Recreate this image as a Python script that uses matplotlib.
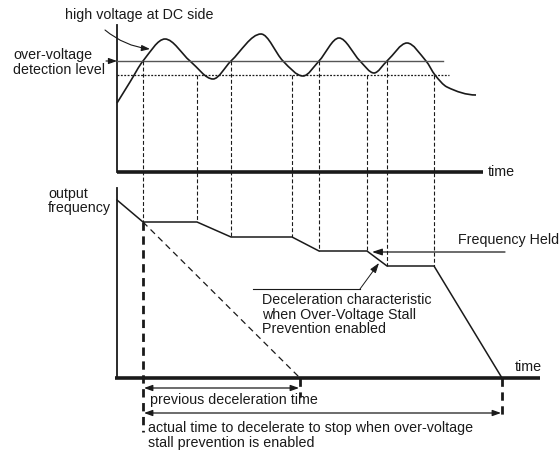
import matplotlib
matplotlib.use("Agg")
import matplotlib.pyplot as plt
from matplotlib.path import Path
from matplotlib.patches import PathPatch
import numpy as np

plt.rcParams['font.family'] = ['Liberation Sans', 'DejaVu Sans']

# ---- data (diagram units: x = time, y = screen rows) ----
event_x = [143, 197, 231, 292, 319, 367, 387, 434]        # stall on/off instants
event_top = [61, 75, 61, 75, 61, 75, 61, 75]              # where dashed guides start (voltage levels)
freq_x = [117, 143, 197, 231, 292, 319, 367, 387, 434, 502]
freq_y = [200, 222, 222, 237, 237, 251, 251, 266, 266, 378]
volt_x = [117, 130, 143, 165, 190, 213, 231, 261, 283, 303, 319, 339, 360, 374, 387, 407, 426, 435, 447, 476]
volt_y = [103, 82, 61, 39, 61, 79, 61, 34, 61, 76, 61, 38, 61, 73, 61, 43, 61, 75, 87, 95]
ov_level = 61
ov_reset = 75
prev_stop_x = 300
actual_stop_x = 502

fig = plt.figure(figsize=(5.6, 4.53), dpi=100)
ax = fig.add_axes([0, 0, 1, 1])
ax.set_xlim(0, 560)
ax.set_ylim(453, 0)
ax.axis('off')

K = '#1a1a1a'
fs = 10.3

# ---- top panel axes ----
ax.plot([117, 117], [25, 172], color=K, lw=1.3)
ax.plot([117, 483], [172, 172], color=K, lw=2.6, solid_capstyle='butt')
ax.text(488, 172, 'time', fontsize=fs, va='center', ha='left', color=K)

# levels
ax.plot([117, 443], [ov_level, ov_level], color='#555555', lw=1.0)
ax.plot([117, 449], [ov_reset, ov_reset], color=K, lw=0.9, linestyle=(0, (1.5, 1.2)))

# voltage curve (Hermite -> cubic Bezier path, flat tangents at extrema)
px = np.array(volt_x, float)
py = np.array(volt_y, float)
n = len(px)
m = np.zeros(n)
for i in range(n):
    if i == 0:
        m[i] = (py[1] - py[0]) / (px[1] - px[0])
    elif i == n - 1:
        m[i] = 0.0
    else:
        d0 = py[i] - py[i - 1]
        d1 = py[i + 1] - py[i]
        if d0 * d1 <= 0:
            m[i] = 0.0
        else:
            m[i] = (py[i + 1] - py[i - 1]) / (px[i + 1] - px[i - 1])
verts = [(px[0], py[0])]
codes = [Path.MOVETO]
for i in range(n - 1):
    h = px[i + 1] - px[i]
    verts += [(px[i] + h / 3, py[i] + m[i] * h / 3),
              (px[i + 1] - h / 3, py[i + 1] - m[i + 1] * h / 3),
              (px[i + 1], py[i + 1])]
    codes += [Path.CURVE4] * 3
ax.add_patch(PathPatch(Path(verts, codes), fill=False, edgecolor=K, lw=1.2))

# ---- bottom panel axes ----
ax.plot([117, 117], [188, 378], color=K, lw=1.3)
ax.plot([115, 540], [378, 378], color=K, lw=2.6, solid_capstyle='butt')
ax.text(515, 367, 'time', fontsize=fs, va='center', ha='left', color=K)

# frequency curve
ax.plot(freq_x, freq_y, color=K, lw=1.1)

# thin dashed guides from top to bottom panel
level_at = dict(zip(freq_x, freq_y))
for x, yt in zip(event_x, event_top):
    ax.plot([x, x], [yt, level_at[x]], color=K, lw=0.8, linestyle=(0, (3.5, 2)))

# previous deceleration dashed line
ax.plot([freq_x[1], prev_stop_x], [freq_y[1], 378], color=K, lw=0.9, linestyle=(0, (5, 3.5)))

# thick dashed markers
ax.plot([event_x[0], event_x[0]], [222, 432], color=K, lw=2.0, linestyle=(0, (3, 2)))
ax.plot([prev_stop_x, prev_stop_x], [378, 397], color=K, lw=2.0, linestyle=(0, (3, 2)))
ax.plot([actual_stop_x, actual_stop_x], [378, 418], color=K, lw=2.0, linestyle=(0, (3, 2)))

# double arrows
arr = dict(arrowstyle='<|-|>,head_length=0.5,head_width=0.18', color=K, lw=0.9, shrinkA=0, shrinkB=0)
ax.annotate('', xy=(event_x[0] + 1, 388), xytext=(prev_stop_x - 1, 388), arrowprops=arr)
ax.annotate('', xy=(event_x[0] + 1, 413), xytext=(actual_stop_x - 1, 413), arrowprops=arr)
ax.text(150, 400, 'previous deceleration time', fontsize=fs, va='center', ha='left', color=K)
ax.text(148, 428, 'actual time to decelerate to stop when over-voltage', fontsize=fs, va='center', ha='left', color=K)
ax.text(148, 443, 'stall prevention is enabled', fontsize=fs, va='center', ha='left', color=K)

# labels top
ax.text(65, 15, 'high voltage at DC side', fontsize=fs, va='center', ha='left', color=K)
ax.annotate('', xy=(150, 49), xytext=(105, 30),
            arrowprops=dict(arrowstyle='-|>,head_length=0.5,head_width=0.18', color=K, lw=0.8,
                            shrinkA=0, shrinkB=0, connectionstyle='arc3,rad=0.15'))
ax.text(13, 55, 'over-voltage', fontsize=fs, va='center', ha='left', color=K)
ax.text(13, 70, 'detection level', fontsize=fs, va='center', ha='left', color=K)
ax.annotate('', xy=(117, 61), xytext=(106, 61),
            arrowprops=dict(arrowstyle='-|>,head_length=0.5,head_width=0.18', color=K, lw=0.8,
                            shrinkA=0, shrinkB=0))

# labels bottom
ax.text(48, 194, 'output', fontsize=fs, va='center', ha='left', color=K)
ax.text(48, 208, 'frequency', fontsize=fs, va='center', ha='left', color=K)

ax.text(458, 240, 'Frequency Held', fontsize=fs, va='center', ha='left', color=K)
ax.annotate('', xy=(372, 252), xytext=(505, 252),
            arrowprops=dict(arrowstyle='-|>,head_length=0.6,head_width=0.2', color=K, lw=0.9,
                            shrinkA=0, shrinkB=0))

ax.plot([253, 360], [289, 289], color=K, lw=0.8)
ax.annotate('', xy=(379, 263), xytext=(360, 289),
            arrowprops=dict(arrowstyle='-|>,head_length=0.6,head_width=0.2', color=K, lw=0.7,
                            shrinkA=0, shrinkB=0))
ax.text(262, 300, 'Deceleration characteristic', fontsize=fs, va='center', ha='left', color=K)
ax.text(262, 315, 'when Over-Voltage Stall', fontsize=fs, va='center', ha='left', color=K)
ax.text(262, 329, 'Prevention enabled', fontsize=fs, va='center', ha='left', color=K)

fig.savefig('out.png', dpi=100)
